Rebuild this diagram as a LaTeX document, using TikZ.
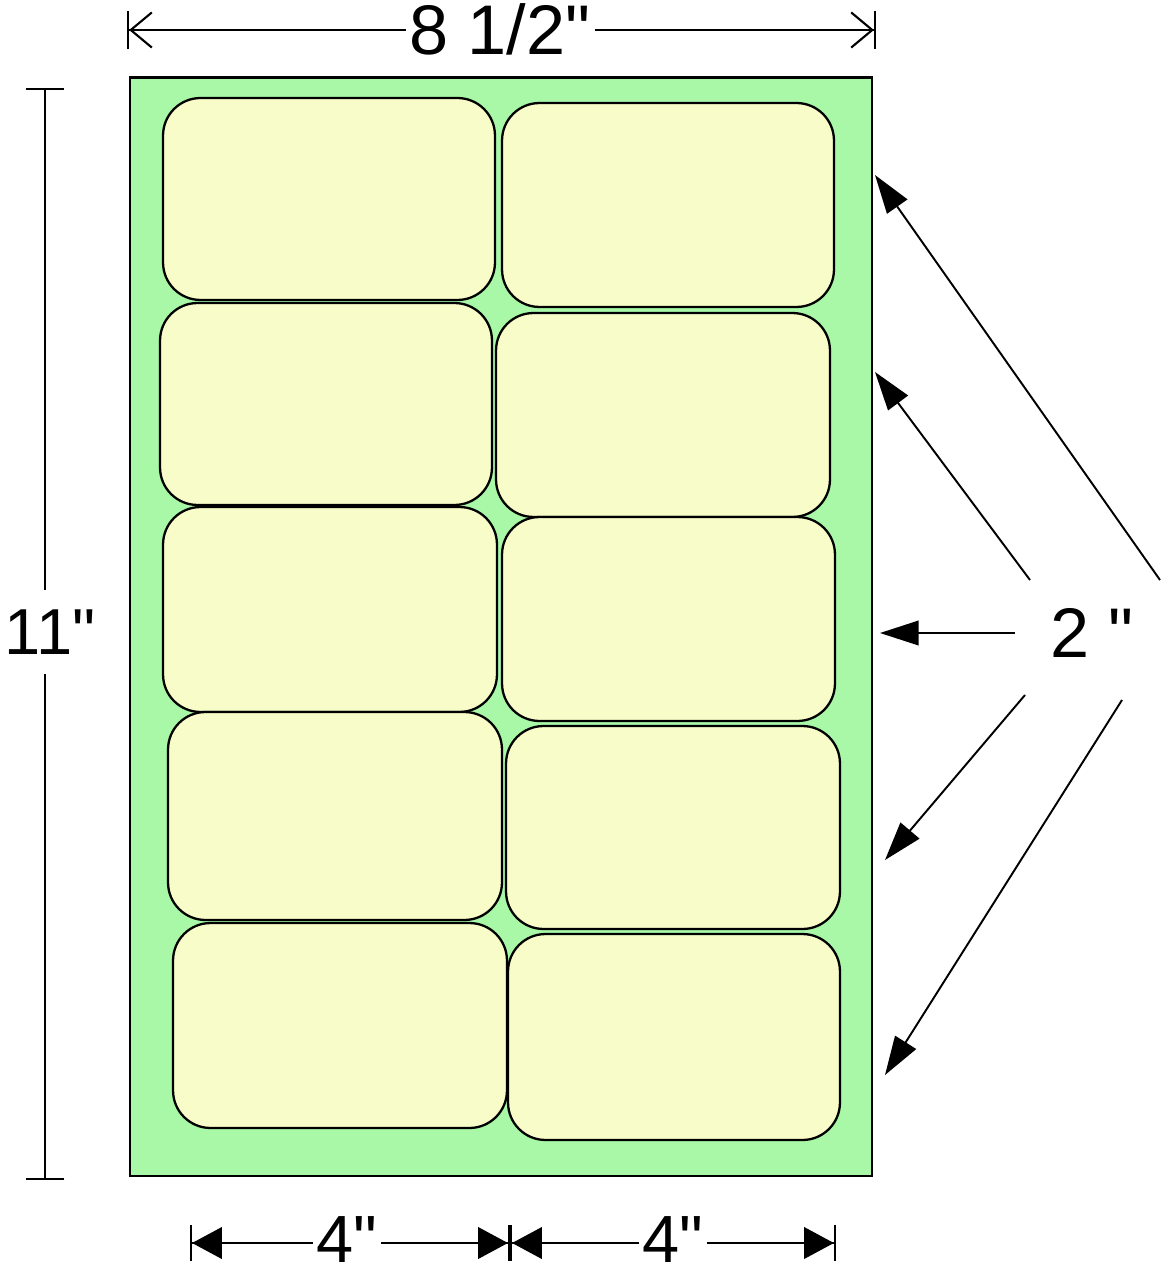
\documentclass[tikz,border=0pt]{standalone}
\usepackage{fontspec}
\setmainfont{Liberation Sans}[Ligatures=TeXOff]
\usetikzlibrary{arrows.meta}
\definecolor{sheetgreen}{RGB}{168,248,168}
\definecolor{labelyellow}{RGB}{248,252,200}
\begin{document}
\begin{tikzpicture}[x=0.02cm,y=-0.02cm,
  sheet/.style={draw, line width=1.6pt, fill=sheetgreen, inner sep=0pt},
  lab/.style={draw, line width=1.3pt, fill=labelyellow, rounded corners=0.75cm, inner sep=0pt},
  dimtext/.style={font=\fontsize{40}{40}\selectfont, fill=white, inner xsep=2pt, inner ysep=1pt},
  dimline/.style={line width=1.2pt},
  callout/.style={line width=1.1pt, -{Triangle[length=22pt,width=14pt]}}]
\useasboundingbox (0,0) rectangle (1162,1280);
\fill[white] (0,0) rectangle (1162,1280);
% sheet
\node[sheet, minimum width=14.84cm, minimum height=21.98cm] (sheet) at (501,626.5) {};
% labels
\node[lab, minimum width=6.64cm, minimum height=4.04cm] (l11) at (329,199) {};
\node[lab, minimum width=6.64cm, minimum height=4.08cm] (l12) at (668,205) {};
\node[lab, minimum width=6.64cm, minimum height=4.04cm] (l21) at (326,404) {};
\node[lab, minimum width=6.68cm, minimum height=4.08cm] (l22) at (663,415) {};
\node[lab, minimum width=6.68cm, minimum height=4.10cm] (l31) at (330,609.5) {};
\node[lab, minimum width=6.66cm, minimum height=4.08cm] (l32) at (668.5,619) {};
\node[lab, minimum width=6.68cm, minimum height=4.16cm] (l41) at (335,816) {};
\node[lab, minimum width=6.68cm, minimum height=4.06cm] (l42) at (673,827.5) {};
\node[lab, minimum width=6.68cm, minimum height=4.10cm] (l51) at (340,1025.5) {};
\node[lab, minimum width=6.64cm, minimum height=4.12cm] (l52) at (674,1037) {};
% top dimension
\node[dimtext] (t8) at (500,29) {8 1/2"};
\coordinate (tl) at (127,30);
\coordinate (tr) at (876,30);
\draw[dimline, {Bar[width=22pt]Straight Barb[length=12pt,width=20pt]}-] (tl) -- (t8.west |- tl);
\draw[dimline, -{Straight Barb[length=12pt,width=20pt]Bar[width=22pt]}] (t8.east |- tr) -- (tr);
% left dimension
\node[dimtext, font=\fontsize{37}{37}\selectfont, inner xsep=0pt, inner ysep=11pt] (t11) at (50,632) {11"};
\coordinate (vt) at (45,88);
\coordinate (vb) at (45,1180);
\draw[dimline, {Bar[width=22pt]}-] (vt) -- (vt |- t11.north);
\draw[dimline, -{Bar[width=22pt]}] (vb |- t11.south) -- (vb);
% right callouts
\node[font=\fontsize{40}{40}\selectfont] (t2) at (1092,633) {2 "};
\coordinate (s1) at (1160,580); \coordinate (e1) at (875,175);
\coordinate (s2) at (1030,580); \coordinate (e2) at (875,372);
\coordinate (s3) at (1015,633); \coordinate (e3) at (880,633);
\coordinate (s4) at (1025,695); \coordinate (e4) at (885,860);
\coordinate (s5) at (1122,700); \coordinate (e5) at (885,1075);
\draw[callout] (s1) -- (e1);
\draw[callout] (s2) -- (e2);
\draw[callout] (s3) -- (e3);
\draw[callout] (s4) -- (e4);
\draw[callout] (s5) -- (e5);
% bottom dimensions
\node[dimtext, font=\fontsize{38}{38}\selectfont] (t4a) at (347,1240) {4"};
\node[dimtext, font=\fontsize{38}{38}\selectfont] (t4b) at (673,1240) {4"};
\coordinate (b1) at (190,1243);
\coordinate (b2) at (510,1243);
\coordinate (b3) at (836,1243);
\draw[dimline, {Bar[width=20pt]Triangle[length=17pt,width=18pt]}-] (b1) -- (t4a.west |- b1);
\draw[dimline, -{Triangle[length=17pt,width=18pt]Bar[width=20pt]}] (t4a.east |- b2) -- (b2);
\draw[dimline, {Bar[width=20pt]Triangle[length=17pt,width=18pt]}-] (b2) -- (t4b.west |- b2);
\draw[dimline, -{Triangle[length=17pt,width=18pt]Bar[width=20pt]}] (t4b.east |- b3) -- (b3);
\end{tikzpicture}
\end{document}
